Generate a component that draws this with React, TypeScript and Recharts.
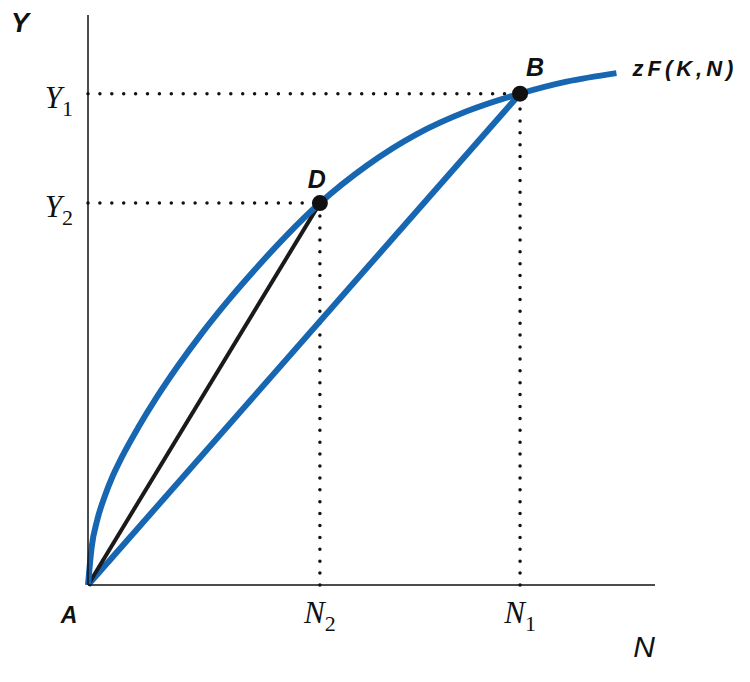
import { LineChart, Line, XAxis, YAxis, ReferenceLine, ReferenceDot, Label } from 'recharts';

// production function zF(K,N) (axes scaled 0..100)
const laborN = [0, 0.65, 1.6, 3.0, 4.4, 5.9, 8.9, 12.1, 15.9, 20.1, 24.7, 29.5, 35.0, 40.9, 49.2, 58.0, 66.8, 76.2, 84.4, 93.2];
const outputY = [0, 6.7, 11.3, 15.7, 19.2, 22.3, 27.7, 32.9, 38.5, 44.2, 49.9, 55.4, 61.3, 67.0, 73.6, 79.1, 83.1, 86.2, 88.3, 89.8];

// marked points on the curve
const pointNames = ['D', 'B'];
const pointN = [40.9, 76.2];
const pointY = [67.0, 86.2];

// tick labels (letter + subscript)
const nTickLabels = [['N', '2'], ['N', '1']];
const yTickLabels = [['Y', '2'], ['Y', '1']];

const curveLabel = 'zF(K,N)';
const originLabel = 'A';

const BLUE = '#1766b2';
const SANS = '"Liberation Sans", Arial, sans-serif';
const SERIF = '"Liberation Serif", "Times New Roman", serif';

const curve = laborN.map((n, i) => ({ n, y: outputY[i] }));
const origin = { n: laborN[0], y: outputY[0] };
const chordD = [origin, { n: pointN[0], y: pointY[0] }];
const chordB = [origin, { n: pointN[1], y: pointY[1] }];
const last = curve[curve.length - 1];

function XTick(props: any) {
  const { x, y, index } = props;
  const [main, sub] = nTickLabels[index] ?? ['', ''];
  return (
    <text x={x} y={y + 38} textAnchor="middle" fill="#111" fontFamily={SERIF} fontSize={31}>
      <tspan fontStyle="italic">{main}</tspan>
      <tspan fontSize={22} dy={8}>{sub}</tspan>
    </text>
  );
}

function YTick(props: any) {
  const { x, y, index } = props;
  const [main, sub] = yTickLabels[index] ?? ['', ''];
  return (
    <text x={x - 15} y={y + 14} textAnchor="end" fill="#111" fontFamily={SERIF} fontSize={31}>
      <tspan fontStyle="italic">{main}</tspan>
      <tspan fontSize={22} dy={8}>{sub}</tspan>
    </text>
  );
}

// label near a dot; viewBox is the dot's box
const dotLabel = (text: string, dx: number, dy: number, size: number, anchor = 'middle', spacing = 0) => (props: any) => {
  const vb = props.viewBox || {};
  const cx = vb.x + (vb.width || 0) / 2;
  const cy = vb.y + (vb.height || 0) / 2;
  return (
    <text x={cx + dx} y={cy + dy} textAnchor={anchor} fill="#111" fontFamily={SANS}
      fontStyle="italic" fontWeight="bold" fontSize={size} letterSpacing={spacing}>
      {text}
    </text>
  );
};

export default function App() {
  return (
    <div style={{ position: 'absolute', left: 0, top: 0, background: '#fff' }}>
      <LineChart width={750} height={682} margin={{ top: 15, right: 95, bottom: 0, left: 0 }}>
        <XAxis
          type="number"
          dataKey="n"
          domain={[0, 100]}
          ticks={pointN.slice().sort((a, b) => a - b)}
          tick={<XTick />}
          tickLine={false}
          tickSize={0}
          tickMargin={0}
          height={97}
          axisLine={{ stroke: '#111', strokeWidth: 1.5 }}
          allowDecimals
        >
          <Label content={(p: any) => {
            const vb = p.viewBox;
            return (
              <text x={vb.x + vb.width - 11} y={vb.y + 72} textAnchor="middle" fill="#111"
                fontFamily={SANS} fontStyle="italic" fontSize={30}>N</text>
            );
          }} />
        </XAxis>
        <YAxis
          type="number"
          dataKey="y"
          domain={[0, 100]}
          ticks={pointY.slice().sort((a, b) => a - b)}
          tick={<YTick />}
          tickLine={false}
          tickSize={0}
          tickMargin={0}
          width={88}
          axisLine={{ stroke: '#111', strokeWidth: 1.5 }}
        >
          <Label content={(p: any) => {
            const vb = p.viewBox;
            return (
              <text x={vb.x + 20} y={vb.y + 17} textAnchor="middle" fill="#111"
                fontFamily={SANS} fontStyle="italic" fontWeight="bold" fontSize={27}>Y</text>
            );
          }} />
        </YAxis>

        {pointN.map((n, i) => (
          <ReferenceLine key={`h${i}`} segment={[{ x: 0, y: pointY[i] }, { x: n, y: pointY[i] }]}
            stroke="#111" strokeWidth={3.5} strokeDasharray="0 11.9" strokeLinecap="round" />
        ))}
        {pointN.map((n, i) => (
          <ReferenceLine key={`v${i}`} segment={[{ x: n, y: 0 }, { x: n, y: pointY[i] }]}
            stroke="#111" strokeWidth={3.5} strokeDasharray="0 11.9" strokeLinecap="round" />
        ))}

        <Line data={chordB} dataKey="y" type="linear" stroke={BLUE} strokeWidth={6}
          dot={false} activeDot={false} isAnimationActive={false} />
        <Line data={chordD} dataKey="y" type="linear" stroke="#1a1a1a" strokeWidth={4}
          dot={false} activeDot={false} isAnimationActive={false} />
        <Line data={curve} dataKey="y" type="monotone" stroke={BLUE} strokeWidth={6}
          dot={false} activeDot={false} isAnimationActive={false} />

        <ReferenceDot x={origin.n} y={origin.y} r={0} fill="none" stroke="none"
          label={dotLabel(originLabel, -19, 38, 23)} />
        <ReferenceDot x={last.n} y={last.y} r={0} fill="none" stroke="none"
          label={dotLabel(curveLabel, 16, 3, 22, 'start', 4)} />
        {pointN.map((n, i) => (
          <ReferenceDot key={pointNames[i]} x={n} y={pointY[i]} r={8} fill="#111" stroke="none"
            label={i === 0 ? dotLabel(pointNames[i], -3, -15, 25) : dotLabel(pointNames[i], 15, -18, 25)} />
        ))}
      </LineChart>
    </div>
  );
}
